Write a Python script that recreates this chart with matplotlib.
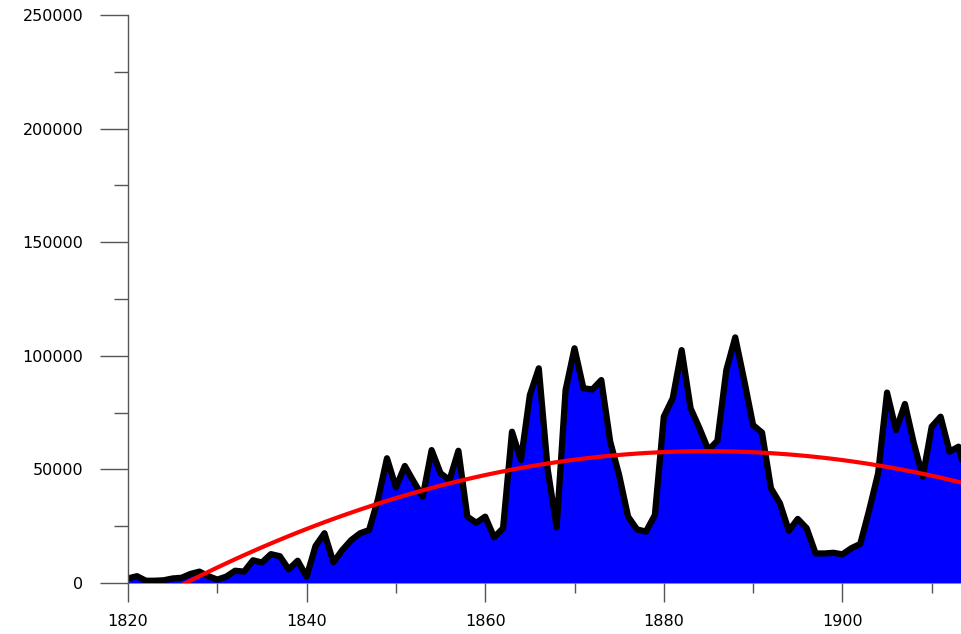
import numpy as np
import matplotlib
matplotlib.use("Agg")
import matplotlib.pyplot as plt
from matplotlib.ticker import MultipleLocator

years = list(range(1820, 1915))
values = [
    2000, 3000, 1000, 1000, 1200, 2000, 2300, 4000, 5000, 3000,   # 1820-1829
    1500, 2800, 5400, 5000, 10000, 9000, 12700, 11800, 6000, 9800,  # 1830-1839
    2800, 16300, 21900, 9100, 14500, 18900, 21900, 23300, 37000, 54900,  # 1840-1849
    42100, 51500, 44600, 38000, 58500, 48300, 45300, 58200, 29200, 26500,  # 1850-1859
    29200, 20100, 24100, 66600, 54100, 82700, 94500, 50000, 24500, 84900,  # 1860-1869
    103300, 85700, 85200, 89300, 62200, 47500, 29200, 23600, 22600, 29900,  # 1870-1879
    73200, 81300, 102500, 76900, 68100, 58500, 62600, 93700, 108100, 89300,  # 1880-1889
    69500, 66200, 41700, 35100, 23000, 28200, 24100, 13000, 13000, 13300,  # 1890-1899
    12600, 15300, 17200, 32100, 48300, 83800, 67300, 78800, 61500, 46800,  # 1900-1909
    68800, 73200, 57800, 60000, 45000,  # 1910-1914
]

x_ticks = [1820, 1840, 1860, 1880, 1900]
y_ticks = [0, 50000, 100000, 150000, 200000, 250000]

yr = np.array(years, dtype=float)
val = np.array(values, dtype=float)
coef = np.polyfit(yr - 1820, val, 2)
trend = np.polyval(coef, yr - 1820)

fig = plt.figure(figsize=(9.61, 6.34), dpi=100)
ax = fig.add_axes([128 / 961, 1 - 583 / 634, 1 - 128 / 961, (583 - 15) / 634])

ax.fill_between(yr, val, 0, color="#0000FF", linewidth=0, zorder=1)
ax.plot(yr, val, color="black", linewidth=4.5, solid_joinstyle="round",
        solid_capstyle="round", zorder=2)
ax.plot(yr, trend, color="#FF0000", linewidth=3, zorder=3)

ax.set_xlim(1820, 1820 + (961 - 128) / 8.93)
ax.set_ylim(0, 250000)

ax.set_xticks(x_ticks)
ax.set_xticklabels([str(t) for t in x_ticks])
ax.set_yticks(y_ticks)
ax.set_yticklabels([str(t) for t in y_ticks])
ax.xaxis.set_minor_locator(MultipleLocator(10))
ax.yaxis.set_minor_locator(MultipleLocator(25000))

tc = "#555555"
ax.tick_params(axis="y", which="major", length=20, width=1, color=tc, pad=12,
               labelsize=11.5, labelcolor="black")
ax.tick_params(axis="y", which="minor", length=10, width=1, color=tc)
ax.tick_params(axis="x", which="major", length=14, width=1, color=tc, pad=8,
               labelsize=11.5, labelcolor="black")
ax.tick_params(axis="x", which="minor", length=7, width=1, color=tc)

for s in ["top", "right", "bottom"]:
    ax.spines[s].set_visible(False)
ax.spines["left"].set_color(tc)
ax.spines["left"].set_linewidth(1)
ax.set_facecolor("white")

for lab in ax.get_xticklabels() + ax.get_yticklabels():
    lab.set_family("DejaVu Sans")

fig.savefig("out.png", dpi=100)
